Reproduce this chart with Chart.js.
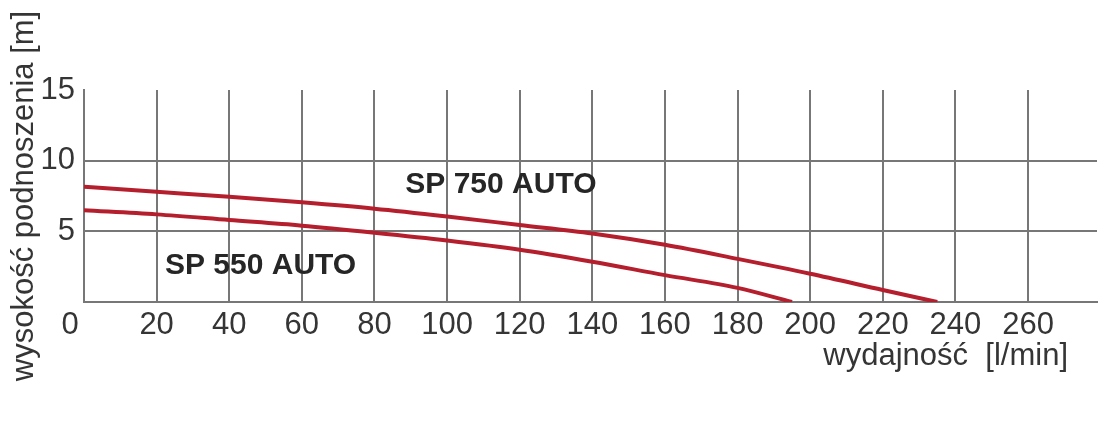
<!DOCTYPE html>
<html>
<head>
<meta charset="utf-8">
<script src="https://cdn.jsdelivr.net/npm/chart.js@4/dist/chart.umd.min.js"></script>
<style>
    body { margin: 0; background: #fff; }
    #wrap { width: 1106px; height: 443px; }
</style>
</head>
<body>
<div id="wrap"><canvas id="pumpChart" width="1106" height="443"></canvas></div>
<script>
// Données
const flowSP750 = [0, 20, 40, 60, 80, 100, 120, 140, 160, 180, 200, 220, 235];
const headSP750 = [8.15, 7.8, 7.45, 7.05, 6.6, 6.05, 5.45, 4.85, 4.05, 3.05, 2.0, 0.85, 0];
const flowSP550 = [0, 20, 40, 60, 80, 100, 120, 140, 160, 180, 195];
const headSP550 = [6.5, 6.2, 5.8, 5.4, 4.9, 4.35, 3.7, 2.85, 1.9, 1.0, 0];
const seriesNames = ['SP 750 AUTO', 'SP 550 AUTO'];
const xTitle = 'wydajność  [l/min]';
const yTitle = 'wysokość podnoszenia [m]';

const FONT = "'Liberation Sans', Arial, sans-serif";
const TEXT = '#353535';
const GRID = '#777777';
const RED = '#b51f2d';

function toPoints(xs, ys) {
    return xs.map((x, i) => ({ x: x, y: ys[i] }));
}

// textes posés sur le graphique (étiquettes des courbes, "0", titre X)
const extraText = {
    id: 'extraText',
    afterDraw(chart) {
        const ctx = chart.ctx;
        const xs = chart.scales.x;
        const ys = chart.scales.y;
        ctx.save();
        ctx.fillStyle = '#262626';
        ctx.font = 'bold 30px ' + FONT;
        ctx.textAlign = 'left';
        ctx.textBaseline = 'middle';
        ctx.fillText(seriesNames[0], xs.getPixelForValue(88.5), ys.getPixelForValue(8.3));
        ctx.fillText(seriesNames[1], xs.getPixelForValue(22.3), ys.getPixelForValue(2.6));

        ctx.fillStyle = TEXT;
        ctx.font = '31px ' + FONT;
        ctx.textAlign = 'center';
        ctx.fillText('0', xs.getPixelForValue(0) - 14, ys.bottom + 23);

        ctx.textAlign = 'right';
        ctx.fillText(xTitle, 1068, 356);
        ctx.restore();
    }
};

document.addEventListener('DOMContentLoaded', function() {
    const ctx = document.getElementById('pumpChart').getContext('2d');

    new Chart(ctx, {
        type: 'line',
        data: {
            datasets: [{
                label: seriesNames[0],
                data: toPoints(flowSP750, headSP750),
                borderColor: RED,
                borderWidth: 4,
                pointRadius: 0,
                cubicInterpolationMode: 'monotone',
                fill: false
            }, {
                label: seriesNames[1],
                data: toPoints(flowSP550, headSP550),
                borderColor: RED,
                borderWidth: 4,
                pointRadius: 0,
                cubicInterpolationMode: 'monotone',
                fill: false
            }]
        },
        options: {
            responsive: false,
            animation: false,
            layout: { padding: { top: 90, right: 9, left: 0, bottom: 0 } },
            plugins: {
                legend: { display: false },
                tooltip: { enabled: false }
            },
            scales: {
                x: {
                    type: 'linear',
                    min: 0,
                    max: 279,
                    afterFit: function(scale) { scale.height = 141; },
                    grid: { color: GRID, lineWidth: 2, drawTicks: false },
                    border: { color: GRID, width: 2 },
                    ticks: {
                        stepSize: 20,
                        includeBounds: false,
                        padding: 5,
                        color: TEXT,
                        font: { family: FONT, size: 31 },
                        callback: function(value) { return value === 0 ? '' : value; }
                    }
                },
                y: {
                    min: 0,
                    max: 15,
                    afterFit: function(scale) { scale.width = 84; },
                    grid: {
                        color: function(c) { return c.tick && c.tick.value === 15 ? 'rgba(0,0,0,0)' : GRID; },
                        lineWidth: 2,
                        drawTicks: false
                    },
                    border: { color: GRID, width: 2 },
                    ticks: {
                        stepSize: 5,
                        padding: 9,
                        color: TEXT,
                        font: { family: FONT, size: 31 },
                        callback: function(value) { return value === 0 ? '' : value; }
                    },
                    title: {
                        display: true,
                        text: yTitle,
                        color: TEXT,
                        font: { family: FONT, size: 31 },
                        padding: { top: 6, bottom: 0 }
                    }
                }
            }
        },
        plugins: [extraText]
    });
});
</script>
</body>
</html>
